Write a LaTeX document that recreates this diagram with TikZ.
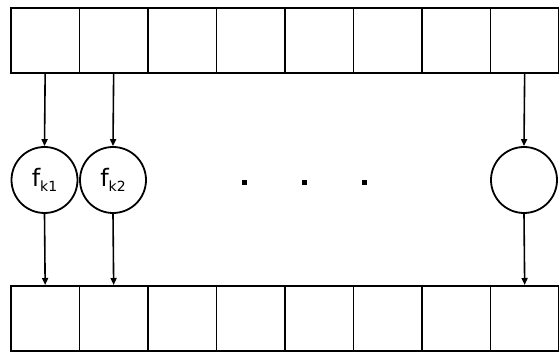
\documentclass[tikz,border=0pt]{standalone}
\usepackage{fontspec}
\setmainfont{DejaVu Sans}
\usetikzlibrary{arrows.meta}
\begin{document}
\begin{tikzpicture}[x=1pt,y=-1pt,
  cell/.style={draw,line width=1.8pt,minimum width=68.5pt,minimum height=65pt,inner sep=0pt,anchor=north west},
  fn/.style={draw,circle,line width=1.8pt,minimum size=66pt,inner sep=0pt,font=\fontsize{24}{28}\selectfont},
  conn/.style={line width=1.6pt,-{Triangle[length=7pt,width=6pt]}},
  dotmark/.style={fill=black,minimum size=5pt,inner sep=0pt}]
\useasboundingbox (0,0) rectangle (559,352);
\foreach \i in {0,...,7}{
  \node[cell] (t\i) at ({10+68.5*\i},7) {};
  \node[cell] (b\i) at ({10+68.5*\i},285) {};
}
\node[fn] (c0) at (44.5,180) {f\raisebox{-0.35ex}{\fontsize{14}{16}\selectfont k1}};
\node[fn] (c1) at (113,180) {f\raisebox{-0.35ex}{\fontsize{14}{16}\selectfont k2}};
\node[fn] (c7) at (524,180) {};
\node[dotmark] (d1) at (244,183) {};
\node[dotmark] (d2) at (304,183) {};
\node[dotmark] (d3) at (364,183) {};
\foreach \i/\j in {0/0,1/1,7/7}{
  \draw[conn] (t\i.south) -- (c\j.north);
  \draw[conn] (c\j.south) -- (b\i.north);
}
\end{tikzpicture}
\end{document}
